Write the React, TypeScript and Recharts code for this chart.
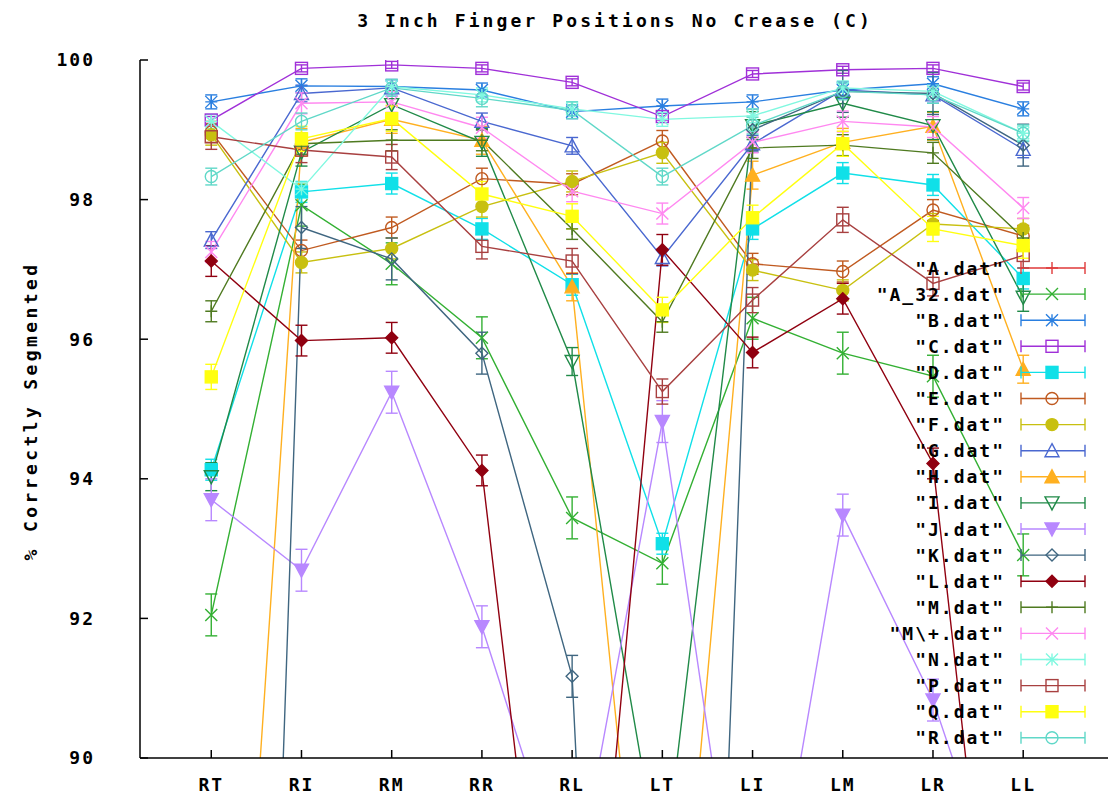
import React from "react"
import { LineChart, Line, XAxis, YAxis, ErrorBar } from "recharts"

const categories = ["RT", "RI", "RM", "RR", "RL", "LT", "LI", "LM", "LR", "LL"]
const yTicks = [90, 92, 94, 96, 98, 100]

// values below 90 run off the bottom of the plot (clipped)
const A     = [86.0, 88.0, 87.5, 87.0, 85.0, 84.0, 87.0, 87.5, 87.0, 85.0]
const A_32  = [92.05, 97.92, 97.08, 96.02, 93.44, 92.79, 96.3, 95.8, 95.47, 92.91]
const B     = [99.4, 99.63, 99.62, 99.57, 99.26, 99.34, 99.4, 99.57, 99.66, 99.3]
const C     = [99.14, 99.88, 99.93, 99.88, 99.68, 99.19, 99.8, 99.86, 99.88, 99.62]
const D     = [94.13, 98.11, 98.23, 97.58, 96.78, 93.07, 97.58, 98.38, 98.21, 96.87]
const E     = [98.97, 97.27, 97.6, 98.3, 98.22, 98.84, 97.08, 96.97, 97.85, 97.48]
const F     = [98.93, 97.1, 97.3, 97.9, 98.26, 98.67, 96.99, 96.7, 97.65, 97.58]
const G     = [97.42, 99.52, 99.6, 99.12, 98.77, 97.17, 98.8, 99.57, 99.5, 98.72]
const H     = [79.5, 98.82, 99.15, 98.85, 96.75, 84.0, 98.35, 98.82, 99.05, 95.57]
const I     = [94.03, 98.68, 99.36, 98.82, 95.68, 88.2, 99.06, 99.38, 99.06, 96.6]
const J     = [93.7, 92.69, 95.24, 91.88, 87.85, 94.82, 86.0, 93.48, 90.83, 87.0]
const K     = [60.0, 97.6, 97.15, 95.8, 91.17, 64.8, 99.0, 99.55, 99.52, 98.78]
const L     = [97.12, 95.98, 96.02, 94.12, 83.2, 97.28, 95.81, 96.58, 94.22, 82.6]
const M     = [96.4, 98.8, 98.85, 98.85, 97.58, 96.25, 98.74, 98.78, 98.67, 97.45]
const Mplus = [97.25, 99.38, 99.4, 99.03, 98.12, 97.8, 98.82, 99.12, 99.04, 97.88]
const N     = [99.12, 98.15, 99.62, 99.5, 99.3, 99.15, 99.2, 99.6, 99.55, 98.95]
const P     = [98.9, 98.71, 98.61, 97.33, 97.12, 95.25, 96.56, 97.71, 96.8, 97.2]
const Q     = [95.46, 98.87, 99.16, 98.08, 97.76, 96.42, 97.74, 98.8, 97.58, 97.34]
const R     = [98.33, 99.12, 99.6, 99.45, 99.28, 98.33, 99.06, 99.55, 99.5, 98.95]

type Shape =
  | "plus" | "cross" | "star" | "square" | "squareF" | "circle" | "circleF"
  | "tri" | "triF" | "itri" | "itriF" | "diamond" | "diamondF"

interface SeriesDef {
  key:   string
  label: string
  color: string
  shape: Shape
  err:   number
  vals:  number[]
}

const series: SeriesDef[] = [
  { key: "A",     label: "\"A.dat\"",     color: "#e03a3a", shape: "plus",     err: 0.25, vals: A },
  { key: "A_32",  label: "\"A_32.dat\"",  color: "#33b033", shape: "cross",    err: 0.3,  vals: A_32 },
  { key: "B",     label: "\"B.dat\"",     color: "#2a7fe0", shape: "star",     err: 0.1,  vals: B },
  { key: "C",     label: "\"C.dat\"",     color: "#a030d8", shape: "square",   err: 0.05, vals: C },
  { key: "D",     label: "\"D.dat\"",     color: "#10e0e8", shape: "squareF",  err: 0.15, vals: D },
  { key: "E",     label: "\"E.dat\"",     color: "#c05a20", shape: "circle",   err: 0.15, vals: E },
  { key: "F",     label: "\"F.dat\"",     color: "#c8c010", shape: "circleF",  err: 0.15, vals: F },
  { key: "G",     label: "\"G.dat\"",     color: "#4a68d0", shape: "tri",      err: 0.12, vals: G },
  { key: "H",     label: "\"H.dat\"",     color: "#ffb020", shape: "triF",     err: 0.2,  vals: H },
  { key: "I",     label: "\"I.dat\"",     color: "#208a48", shape: "itri",     err: 0.2,  vals: I },
  { key: "J",     label: "\"J.dat\"",     color: "#b888ff", shape: "itriF",    err: 0.3,  vals: J },
  { key: "K",     label: "\"K.dat\"",     color: "#3f6680", shape: "diamond",  err: 0.3,  vals: K },
  { key: "L",     label: "\"L.dat\"",     color: "#900010", shape: "diamondF", err: 0.22, vals: L },
  { key: "M",     label: "\"M.dat\"",     color: "#4f7a20", shape: "plus",     err: 0.15, vals: M },
  { key: "Mplus", label: "\"M\\+.dat\"",  color: "#ff88f0", shape: "cross",    err: 0.15, vals: Mplus },
  { key: "N",     label: "\"N.dat\"",     color: "#80f8e0", shape: "star",     err: 0.1,  vals: N },
  { key: "P",     label: "\"P.dat\"",     color: "#a84040", shape: "square",   err: 0.18, vals: P },
  { key: "Q",     label: "\"Q.dat\"",     color: "#ffff10", shape: "squareF",  err: 0.18, vals: Q },
  { key: "R",     label: "\"R.dat\"",     color: "#60d8c8", shape: "circle",   err: 0.12, vals: R },
]

const data = categories.map((_, i) => {
  const row: Record<string, number> = { x: i }
  series.forEach((s) => {
    row[s.key] = s.vals[i]
    row[`${s.key}_err`] = s.err
  })
  return row
})

const FONT = "'DejaVu Sans Mono', monospace"
const txt = { fontFamily: FONT, fontWeight: 700, fontSize: 18, letterSpacing: 2, fill: "#000" }

function Marker({ shape, color, cx, cy }: { shape: Shape; color: string; cx: number; cy: number }) {
  const s = 6
  const common = { stroke: color, strokeWidth: 1.4 }
  switch (shape) {
    case "plus":
      return <path d={`M${cx - s},${cy}H${cx + s}M${cx},${cy - s}V${cy + s}`} {...common} fill="none" />
    case "cross":
      return <path d={`M${cx - s},${cy - s}L${cx + s},${cy + s}M${cx - s},${cy + s}L${cx + s},${cy - s}`} {...common} fill="none" />
    case "star":
      return (
        <path
          d={`M${cx - s},${cy}H${cx + s}M${cx},${cy - s}V${cy + s}M${cx - s},${cy - s}L${cx + s},${cy + s}M${cx - s},${cy + s}L${cx + s},${cy - s}`}
          {...common} fill="none"
        />
      )
    case "square":
    case "squareF":
      return <rect x={cx - s} y={cy - s} width={2 * s} height={2 * s} {...common} fill={shape === "squareF" ? color : "none"} />
    case "circle":
    case "circleF":
      return <circle cx={cx} cy={cy} r={s} {...common} fill={shape === "circleF" ? color : "none"} />
    case "tri":
    case "triF":
      return <path d={`M${cx},${cy - s - 1}L${cx + s + 1},${cy + s}L${cx - s - 1},${cy + s}Z`} {...common} fill={shape === "triF" ? color : "none"} />
    case "itri":
    case "itriF":
      return <path d={`M${cx},${cy + s + 1}L${cx + s + 1},${cy - s}L${cx - s - 1},${cy - s}Z`} {...common} fill={shape === "itriF" ? color : "none"} />
    default:
      return <path d={`M${cx},${cy - s}L${cx + s},${cy}L${cx},${cy + s}L${cx - s},${cy}Z`} {...common} fill={shape === "diamondF" ? color : "none"} />
  }
}

function Legend() {
  const top = 268
  const step = 26.1
  return (
    <svg width={1110} height={800} style={{ position: "absolute", left: 0, top: 0, pointerEvents: "none" }}>
      <text x={615} y={20} textAnchor="middle" dominantBaseline="central" style={{ ...txt, letterSpacing: 3.1 }}>
        3 Inch Finger Positions No Crease (C)
      </text>
      <text
        x={30} y={411} textAnchor="middle" dominantBaseline="central"
        transform="rotate(-90 30 411)" style={{ ...txt, letterSpacing: 3.4 }}
      >
        % Correctly Segmented
      </text>
      {series.map((s, i) => {
        const y = top + i * step
        return (
          <g key={s.key}>
            <text x={1005} y={y} textAnchor="end" dominantBaseline="central" style={txt}>{s.label}</text>
            <path d={`M1021,${y}H1085M1021,${y - 6}V${y + 6}M1085,${y - 6}V${y + 6}`} stroke={s.color} strokeWidth={1.4} fill="none" />
            <Marker shape={s.shape} color={s.color} cx={1052} cy={y} />
          </g>
        )
      })}
    </svg>
  )
}

export default function App() {
  const xDomain: [number, number] = [-0.79, 9.94]
  const xTicks = categories.map((_, i) => i)
  return (
    <div style={{ position: "absolute", left: 0, top: 0, width: 1110, height: 800, background: "#fff" }}>
      <LineChart width={1110} height={800} data={data} margin={{ top: 60, right: 2, left: 0, bottom: 0 }}>
        <XAxis
          dataKey="x" type="number" domain={xDomain} ticks={xTicks} allowDataOverflow
          height={42} tickSize={-8} tickMargin={28}
          tickFormatter={(v: number) => categories[v] ?? ""}
          tick={txt}
          axisLine={{ stroke: "#000", strokeWidth: 1.5 }}
          tickLine={{ stroke: "#000", strokeWidth: 1.5 }}
        />
        <XAxis
          xAxisId="top" orientation="top" dataKey="x" type="number" domain={xDomain} ticks={xTicks}
          allowDataOverflow height={0} tickSize={-8} tickFormatter={() => ""}
          axisLine={{ stroke: "#000", strokeWidth: 1.5 }}
          tickLine={{ stroke: "#000", strokeWidth: 1.5 }}
        />
        <YAxis
          type="number" domain={[90, 100]} ticks={yTicks} allowDataOverflow
          width={140} tickSize={-8} tickMargin={53}
          tick={txt}
          axisLine={{ stroke: "#000", strokeWidth: 1.5 }}
          tickLine={{ stroke: "#000", strokeWidth: 1.5 }}
        />
        <YAxis
          yAxisId="right" orientation="right" type="number" domain={[90, 100]} ticks={yTicks}
          allowDataOverflow width={0} tickSize={-8} tickFormatter={() => ""}
          axisLine={{ stroke: "#000", strokeWidth: 1.5 }}
          tickLine={{ stroke: "#000", strokeWidth: 1.5 }}
        />
        {series.map((s) => (
          <Line
            key={s.key}
            dataKey={s.key}
            type="linear"
            stroke={s.color}
            strokeWidth={1.4}
            isAnimationActive={false}
            activeDot={false}
            dot={(p: any) =>
              p.cx == null || p.cy == null
                ? <g key={`${s.key}-${p.index}`} />
                : <Marker key={`${s.key}-${p.index}`} shape={s.shape} color={s.color} cx={p.cx} cy={p.cy} />
            }
          >
            <ErrorBar dataKey={`${s.key}_err`} width={6} stroke={s.color} strokeWidth={1.4} direction="y" />
          </Line>
        ))}
      </LineChart>
      <Legend />
    </div>
  )
}
